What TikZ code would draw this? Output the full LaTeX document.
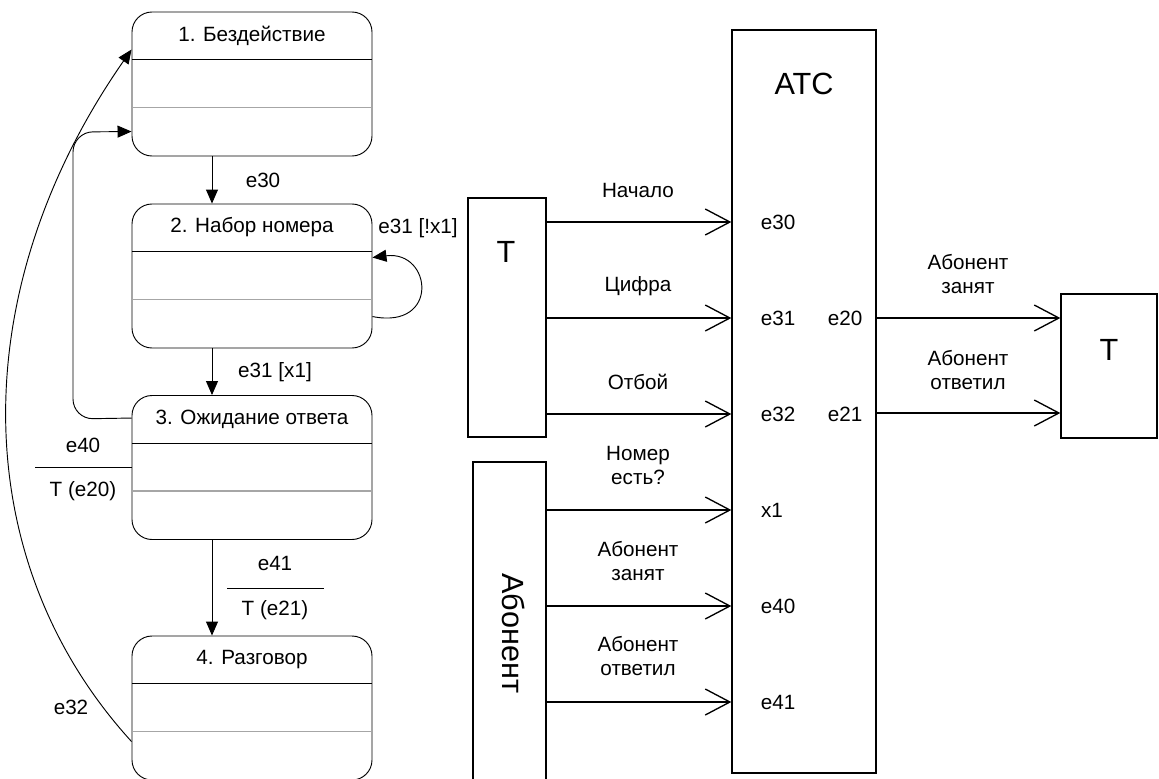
\documentclass[tikz,border=0pt]{standalone}
\usepackage{fontspec}
\setmainfont{Liberation Sans}
\usetikzlibrary{arrows.meta,calc}
\begin{document}
\begin{tikzpicture}[x=0.75pt,y=-0.75pt,
  every node/.style={font=\fontsize{15.5}{18}\selectfont, inner sep=0pt},
  state/.style={draw, line width=0.7pt, rounded corners=15pt, minimum width=180pt, minimum height=108pt},
  blk/.style={draw, line width=1pt},
  big/.style={font=\fontsize{23}{26}\selectfont},
  tri/.style={line width=0.7pt, -{Triangle[length=10.5pt,width=9pt]}},
  open/.style={line width=1pt, -{Straight Barb[length=18.5pt,width=19.5pt,line width=1pt]}},
  div/.style={line width=0.7pt},
  gdiv/.style={line width=0.9pt, draw=black!35}
]
\clip (0,0) rectangle (1159,778);
\useasboundingbox (0,0) rectangle (1159,778);

% ---- state boxes ----
\node[state] (s1) at (252,84) {};
\node[state] (s2) at (252,276) {};
\node[state] (s3) at (252,467.5) {};
\node[state] (s4) at (252,708) {};
\node (t1) at ($(s1.north)+(0,24)$) {1. Бездействие};
\node (t2) at ($(s2.north)+(0,24)$) {2. Набор номера};
\node (t3) at ($(s3.north)+(0,24)$) {3. Ожидание ответа};
\node (t4) at ($(s4.north)+(0,24)$) {4. Разговор};
\foreach \s in {s1,s2,s3,s4}{
  \draw[div] ($(\s.north west)+(0,48)$) -- ($(\s.north east)+(0,48)$);
  \draw[gdiv] ($(\s.north west)+(0,96)$) -- ($(\s.north east)+(0,96)$);
}

% transitions
\draw[tri] ($(s1.south)+(-40,0)$) -- ($(s2.north)+(-40,0)$);
\node (l30) at (263,180) {e30};
\draw[tri] ($(s2.north east)+(0,113)$) .. controls (440,330) and (432,250) .. ($(s2.north east)+(0,54)$);
\node (l31a) at (418,228) {e31 [!x1]};
\draw[tri] ($(s2.south)+(-40,0)$) -- ($(s3.north)+(-40,0)$);
\node (l31b) at (275,372) {e31 [x1]};
\coordinate (c1) at (73,419);
\draw[tri, rounded corners=15pt] ($(s3.north west)+(0,23)$) -- (c1) -- (c1 |- 0,132) -- ($(s1.north west)+(0,120)$);
\draw[div] (s3.west) -- ++(-97,0) coordinate (e40end);
\node (l40) at (83,445) {e40};
\node (l40b) at (83,491) {T (e20)};
\draw[tri] ($(s3.south)+(-40,0)$) -- ($(s4.north)+(-40,0)$);
\node (l41) at (275,563) {e41};
\draw[div] (227,588) -- (324,588);
\node (l41b) at (275,610) {T (e21)};
\draw[tri] ($(s4.north west)+(0,106)$) .. controls (-34,560) and (-36,290) .. ($(s1.north west)+(0,38)$);
\node (l32) at (71,707) {e32};

% ---- right part ----
\node[blk, minimum width=58.5pt, minimum height=179.25pt] (T1) at (507,317.5) {};
\node[big] (T1t) at (506,252) {T};
\node[blk, minimum width=108pt, minimum height=557.25pt] (ATC) at (804,401.5) {};
\node[big] (ATCt) at (804,84) {АТС};
\node[blk, minimum width=54.75pt, minimum height=253.5pt] (AB) at (509.5,631) {};
\node[big, rotate=-90] (ABt) at (514,633.5) {Абонент};
\node[blk, minimum width=72pt, minimum height=108pt] (T2) at (1109,366) {};
\node[big] (T2t) at (1109,350) {T};

\draw[open] (T1.east |- 0,222) -- (ATC.west |- 0,222);
\draw[open] (T1.east |- 0,318) -- (ATC.west |- 0,318);
\draw[open] (T1.east |- 0,414) -- (ATC.west |- 0,414);
\draw[open] (AB.east |- 0,510) -- (ATC.west |- 0,510);
\draw[open] (AB.east |- 0,606) -- (ATC.west |- 0,606);
\draw[open] (AB.east |- 0,702) -- (ATC.west |- 0,702);
\draw[open] (ATC.east |- 0,318) -- (T2.west |- 0,318);
\draw[open] (ATC.east |- 0,413) -- (T2.west |- 0,413);

\node (n1) at (638,190) {Начало};
\node (n2) at (638,286) {Цифра};
\node (n3) at (638,382) {Отбой};
\node[align=center] (n4) at (638,465) {Номер\\есть?};
\node[align=center] (n5) at (638,561) {Абонент\\занят};
\node[align=center] (n6) at (638,656) {Абонент\\ответил};
\node[align=center] (n7) at (968,274) {Абонент\\занят};
\node[align=center] (n8) at (968,370) {Абонент\\ответил};

\node (i30) at (778,222) {e30};
\node (i31) at (778,318) {e31};
\node (i32) at (778,414) {e32};
\node (ix1) at (772,510) {x1};
\node (i40) at (778,606) {e40};
\node (i41) at (778,702) {e41};
\node (o20) at (845,318) {e20};
\node (o21) at (845,414) {e21};
\end{tikzpicture}
\end{document}
